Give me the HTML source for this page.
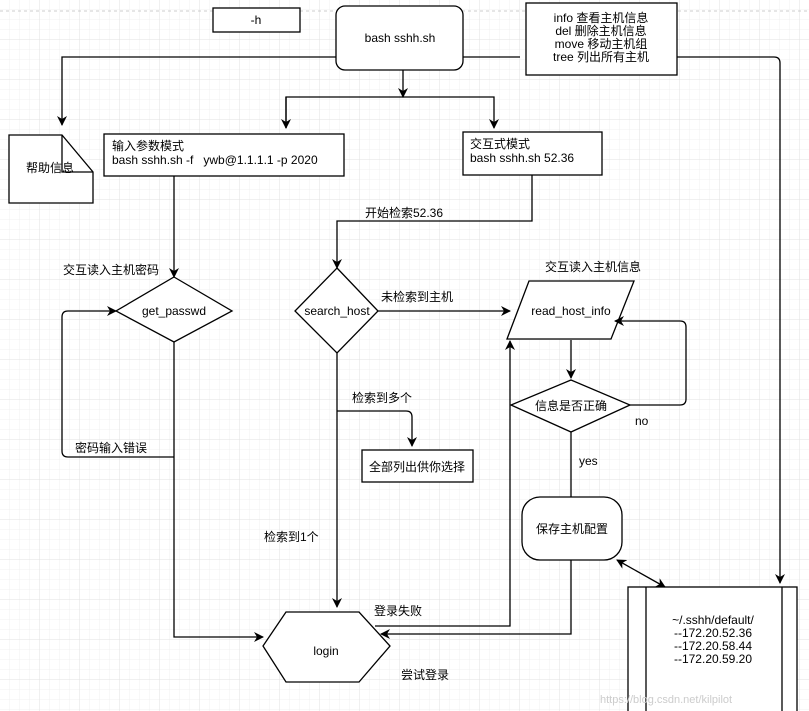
<!DOCTYPE html>
<html><head><meta charset="utf-8"><style>
html,body{margin:0;padding:0;background:#fff;}
svg{display:block;font-family:"Liberation Sans","Noto Sans CJK SC",sans-serif;font-size:12px;}
</style></head><body>
<svg width="809" height="711" viewBox="0 0 809 711" xmlns="http://www.w3.org/2000/svg">
<defs>
<pattern id="g" width="10" height="10" patternUnits="userSpaceOnUse"><path d="M10 0V10H0" fill="none" stroke="#f0f0f0" stroke-width="1"/></pattern>
<pattern id="G" width="40" height="40" patternUnits="userSpaceOnUse"><rect width="40" height="40" fill="url(#g)"/><path d="M40 0V40H0" fill="none" stroke="#e2e2e2" stroke-width="1"/></pattern>
<marker id="a" markerWidth="10" markerHeight="10" refX="9" refY="5" orient="auto" markerUnits="userSpaceOnUse"><path d="M0,0 L10,5 L0,10 L3,5 Z" fill="#000"/></marker>
<marker id="s" markerWidth="10" markerHeight="10" refX="1" refY="5" orient="auto" markerUnits="userSpaceOnUse"><path d="M10,0 L0,5 L10,10 L7,5 Z" fill="#000"/></marker>
</defs>
<rect width="809" height="711" fill="url(#G)"/>
<line x1="0" y1="11" x2="809" y2="11" stroke="#ccc" stroke-dasharray="3,3"/>
<g fill="#fff" stroke="#000" stroke-width="1.3">
<rect x="213" y="8" width="87" height="24"/>
<rect x="336" y="6" width="127" height="64" rx="9"/>
<rect x="526" y="3" width="151" height="72"/>
<path d="M9 135H62L93 172V203H9Z"/>
<path d="M62 135V172H93" fill="none"/>
<rect x="104" y="134" width="240" height="42"/>
<rect x="463" y="132" width="139" height="43"/>
<path d="M174 277L232 311L174 342L116 311Z"/>
<path d="M337 268L378 311L337 353L295 311Z"/>
<path d="M529 281H634L611 339H507Z"/>
<path d="M571 380L630 405L571 432L511 405Z"/>
<rect x="362" y="450" width="111" height="32"/>
<rect x="522" y="497" width="100" height="63" rx="18"/>
<path d="M286 612H359L390 646L359 682H286L263 646Z"/>
<rect x="628" y="587" width="169" height="130"/>
<path d="M646 587V711M782 587V711" fill="none"/>
</g>
<g fill="none" stroke="#000" stroke-width="1.3">
<path d="M336 57H62V125" marker-end="url(#a)"/>
<path d="M463 57H520M677 57H774Q780 57 780 63V583" marker-end="url(#a)"/>
<path d="M403 70V97" marker-end="url(#a)"/>
<path d="M286 128V97H494V128" marker-end="url(#a)"/>
<path d="M286 97V128" marker-end="url(#a)"/>
<path d="M174 176V277" marker-end="url(#a)"/>
<path d="M532 175V221H337V268" marker-end="url(#a)"/>
<path d="M378 311H510" marker-end="url(#a)"/>
<path d="M571 340V378" marker-end="url(#a)"/>
<path d="M630 405H680Q686 405 686 399V327Q686 321 680 321H615" marker-end="url(#a)"/>
<path d="M571 432V497"/>
<path d="M617 560L665 587" marker-start="url(#s)" marker-end="url(#a)"/>
<path d="M571 560V634H381" marker-end="url(#a)"/>
<path d="M174 342V637H263" marker-end="url(#a)"/>
<path d="M174 457H68Q62 457 62 451V317Q62 311 68 311H116" marker-end="url(#a)"/>
<path d="M337 353V607" marker-end="url(#a)"/>
<path d="M337 411H406Q412 411 412 417V446" marker-end="url(#a)"/>
<path d="M375 626H510V341" marker-end="url(#a)"/>
</g>
<g fill="#000" text-anchor="middle">
<text x="256" y="24">-h</text>
<text x="400" y="42">bash sshh.sh</text>
<text x="601" y="22">info 查看主机信息</text>
<text x="601" y="35">del 删除主机信息</text>
<text x="601" y="48">move 移动主机组</text>
<text x="601" y="61">tree 列出所有主机</text>
<text x="50" y="172">帮助信息</text>
<text x="174" y="315">get_passwd</text>
<text x="337" y="315">search_host</text>
<text x="571" y="315">read_host_info</text>
<text x="571" y="410">信息是否正确</text>
<text x="417" y="471">全部列出供你选择</text>
<text x="572" y="533">保存主机配置</text>
<text x="326" y="655">login</text>
<text x="713" y="624">~/.sshh/default/</text>
<text x="713" y="637">--172.20.52.36</text>
<text x="713" y="650">--172.20.58.44</text>
<text x="713" y="663">--172.20.59.20</text>
</g>
<g fill="#000">
<text x="112" y="150">输入参数模式</text>
<text x="112" y="164">bash sshh.sh -f &#160; ywb@1.1.1.1 -p 2020</text>
<text x="470" y="148">交互式模式</text>
<text x="470" y="162">bash sshh.sh 52.36</text>
<text x="365" y="217">开始检索52.36</text>
<text x="63" y="274">交互读入主机密码</text>
<text x="381" y="301">未检索到主机</text>
<text x="545" y="271">交互读入主机信息</text>
<text x="635" y="425">no</text>
<text x="579" y="465">yes</text>
<text x="352" y="402">检索到多个</text>
<text x="75" y="452">密码输入错误</text>
<text x="264" y="541">检索到1个</text>
<text x="374" y="615">登录失败</text>
<text x="401" y="679">尝试登录</text>
</g>
<text x="600" y="703" fill="#ccc" font-size="11">https://blog.csdn.net/kilpilot</text>
</svg>
</body></html>
